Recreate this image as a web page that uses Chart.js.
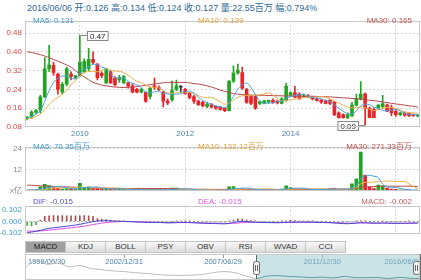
<!DOCTYPE html>
<html>
<head>
<meta charset="utf-8">
<script src="https://cdn.jsdelivr.net/npm/chart.js@4.4.1/dist/chart.umd.min.js"></script>
<style>
body{margin:0;width:421px;height:280px;overflow:hidden;background:#fff;position:relative;font-family:"Liberation Sans",Arial,"Noto Sans CJK SC",sans-serif}
canvas{position:absolute;left:0}
.t{position:absolute;white-space:nowrap;font-size:8px;line-height:10px;z-index:2}
.r{text-align:right}
#title{position:absolute;left:27px;top:3px;font-size:9px;line-height:11px;color:#2f6a99;white-space:nowrap}
#tabs{position:absolute;left:25px;top:241px;height:11px;display:flex;z-index:2}
#tabs div{width:39px;height:10px;border:1px solid #c4c4c4;border-left:none;font-size:8px;line-height:10px;text-align:center;color:#333;background:linear-gradient(#f7f7f7,#dcdcdc)}
#tabs div:first-child{border-left:1px solid #c4c4c4}
#tabs div.on{background:#a0a0a0;color:#222}
</style>
</head>
<body>
<div id="title">2016/06/06 开:0.126 高:0.134 低:0.124 收:0.127 量:22.55百万 幅:0.794%</div>

<canvas id="mainChart" width="421" height="127" style="top:13px"></canvas>
<canvas id="volChart" width="421" height="60" style="top:139px"></canvas>
<canvas id="macdChart" width="421" height="44" style="top:198px"></canvas>
<canvas id="navChart" width="421" height="28" style="top:252px"></canvas>

<div class="t" style="left:33px;top:16px;color:#3f9bd5">MA5: 0.131</div>
<div class="t" style="left:198px;top:16px;color:#e6a23c">MA10: 0.139</div>
<div class="t r" style="right:9px;top:16px;color:#c0504d">MA30: 0.165</div>

<div class="t" style="left:33px;top:142px;color:#3f9bd5">MA5: 70.35百万</div>
<div class="t" style="left:198px;top:142px;color:#e6a23c">MA10: 132.12百万</div>
<div class="t r" style="right:9px;top:142px;color:#c0504d">MA30: 271.33百万</div>

<div class="t" style="left:33px;top:197px;color:#5050c8">DIF: -0.015</div>
<div class="t" style="left:198px;top:197px;color:#dd55dd">DEA: -0.015</div>
<div class="t r" style="right:9px;top:197px;color:#c06060">MACD: -0.002</div>

<div id="tabs">
  <div class="on">MACD</div><div>KDJ</div><div>BOLL</div><div>PSY</div><div>OBV</div><div>RSI</div><div>WVAD</div><div>CCI</div>
</div>

<script>
// monthly candles 2009/01 .. 2016/06
const months = [
  '2009/01','2009/02','2009/03','2009/04','2009/05','2009/06','2009/07','2009/08','2009/09','2009/10','2009/11','2009/12',
  '2010/01','2010/02','2010/03','2010/04','2010/05','2010/06','2010/07','2010/08','2010/09','2010/10','2010/11','2010/12',
  '2011/01','2011/02','2011/03','2011/04','2011/05','2011/06','2011/07','2011/08','2011/09','2011/10','2011/11','2011/12',
  '2012/01','2012/02','2012/03','2012/04','2012/05','2012/06','2012/07','2012/08','2012/09','2012/10','2012/11','2012/12',
  '2013/01','2013/02','2013/03','2013/04','2013/05','2013/06','2013/07','2013/08','2013/09','2013/10','2013/11','2013/12',
  '2014/01','2014/02','2014/03','2014/04','2014/05','2014/06','2014/07','2014/08','2014/09','2014/10','2014/11','2014/12',
  '2015/01','2015/02','2015/03','2015/04','2015/05','2015/06','2015/07','2015/08','2015/09','2015/10','2015/11','2015/12',
  '2016/01','2016/02','2016/03','2016/04','2016/05','2016/06'
];
const yearLabels = ['2010', '2012', '2014'];
const gridYears = ['2010', '2012', '2014', '2016'];

const open = [
  .115,.122,.142,.152,.208,.328,.342,.305,.228,.262,
  .305,.290,.300,.315,.328,.368,.348,.308,.268,.315,
  .288,.280,.268,.268,.255,.240,.228,.228,.210,.255,
  .248,.228,.190,.195,.240,.250,.240,.225,.210,.190,
  .185,.168,.175,.168,.165,.160,.150,.275,.310,.312,
  .240,.210,.213,.180,.180,.188,.193,.190,.180,.193,
  .215,.227,.220,.207,.213,.207,.200,.193,.190,.193,
  .187,.140,.133,.120,.127,.173,.200,.220,.160,.155,
  .160,.167,.173,.160,.147,.133,.140,.138,.130,.126
];
const high = [
  .125,.150,.155,.215,.375,.428,.355,.310,.270,.335,
  .315,.300,.470,.370,.415,.400,.350,.315,.330,.320,
  .295,.300,.300,.270,.265,.245,.245,.230,.250,.288,
  .255,.232,.200,.275,.280,.255,.245,.228,.215,.195,
  .190,.185,.180,.170,.168,.162,.278,.340,.348,.335,
  .245,.215,.215,.190,.195,.195,.200,.195,.205,.267,
  .230,.253,.225,.220,.218,.210,.205,.198,.195,.198,
  .190,.145,.136,.140,.185,.220,.273,.225,.165,.160,
  .175,.215,.178,.173,.155,.142,.145,.140,.136,.134
];
const low = [
  .110,.118,.138,.140,.205,.315,.300,.220,.220,.255,
  .280,.285,.295,.310,.320,.350,.280,.290,.265,.265,
  .255,.270,.265,.245,.225,.225,.225,.185,.200,.240,
  .235,.165,.175,.190,.235,.228,.220,.200,.180,.172,
  .165,.162,.160,.155,.152,.145,.148,.270,.305,.240,
  .180,.175,.155,.175,.178,.180,.180,.178,.178,.190,
  .210,.205,.198,.205,.205,.195,.190,.180,.178,.175,
  .128,.118,.118,.115,.125,.170,.195,.090,.120,.120,
  .155,.160,.145,.128,.125,.128,.125,.125,.125,.124
];
const close = [
  .120,.143,.150,.208,.328,.345,.312,.240,.262,.328,
  .295,.298,.355,.360,.368,.355,.290,.300,.328,.268,
  .260,.290,.295,.255,.228,.228,.240,.190,.245,.248,
  .240,.190,.182,.235,.255,.250,.222,.205,.190,.175,
  .170,.178,.165,.160,.155,.150,.275,.310,.322,.245,
  .185,.180,.160,.188,.190,.193,.185,.182,.200,.253,
  .227,.207,.200,.213,.207,.200,.193,.187,.180,.180,
  .133,.120,.120,.133,.173,.200,.220,.160,.120,.120,
  .173,.180,.147,.140,.133,.140,.130,.127,.128,.127
];
const ma5 = [
  .118,.125,.135,.150,.190,.235,.269,.287,.297,.297,
  .287,.285,.308,.327,.335,.347,.346,.335,.328,.308,
  .289,.289,.288,.274,.266,.259,.249,.228,.226,.230,
  .233,.223,.221,.219,.220,.222,.229,.233,.224,.208,
  .192,.184,.176,.170,.166,.162,.181,.210,.242,.260,
  .267,.248,.218,.192,.181,.182,.183,.188,.190,.203,
  .209,.214,.217,.220,.211,.205,.203,.200,.193,.188,
  .175,.160,.147,.137,.136,.149,.169,.177,.175,.164,
  .159,.151,.148,.152,.155,.148,.138,.134,.132,.131
];
const ma10 = [
  .115,.118,.125,.135,.155,.175,.195,.205,.220,.235,
  .261,.277,.297,.312,.316,.317,.315,.321,.328,.322,
  .318,.317,.311,.301,.287,.274,.269,.258,.250,.248,
  .246,.236,.225,.223,.225,.228,.226,.227,.222,.214,
  .207,.206,.205,.197,.187,.177,.182,.193,.206,.213,
  .215,.215,.214,.217,.221,.225,.216,.203,.191,.192,
  .196,.199,.203,.205,.207,.207,.208,.209,.207,.199,
  .190,.181,.173,.165,.162,.162,.165,.162,.156,.150,
  .154,.160,.163,.163,.159,.153,.144,.141,.140,.139
];
const ma30 = [
  .400,.397,.393,.388,.382,.375,.368,.360,.352,.344,
  .335,.320,.305,.293,.281,.270,.264,.258,.255,.252,
  .250,.249,.248,.249,.250,.252,.255,.257,.260,.263,
  .266,.268,.270,.270,.270,.270,.270,.268,.265,.263,
  .260,.255,.250,.244,.237,.232,.227,.222,.220,.218,
  .217,.216,.216,.215,.215,.214,.214,.213,.213,.212,
  .212,.212,.212,.211,.211,.211,.210,.209,.209,.208,
  .207,.206,.204,.203,.202,.200,.198,.196,.194,.192,
  .190,.187,.184,.181,.178,.176,.173,.170,.168,.165
];
const priceTicks = [0.08, 0.16, 0.24, 0.32, 0.40, 0.48];

// volume, x亿
const volume = [
  0.3,0.5,0.8,2.5,3.8,3.2,2.0,1.8,1.2,1.5,
  1.0,1.2,4.4,2.0,2.5,1.5,1.6,1.0,1.3,1.1,
  0.9,1.8,1.0,0.8,0.7,0.8,0.9,0.7,1.0,0.8,
  0.7,0.8,0.6,1.8,1.7,1.0,0.8,0.7,0.6,0.5,
  0.5,0.6,0.5,0.5,0.5,0.6,2.4,2.6,1.5,1.5,
  0.9,0.7,0.7,0.6,0.8,0.7,0.7,0.6,1.2,3.0,
  2.0,1.5,1.0,1.0,0.9,0.8,1.0,1.1,1.0,1.4,
  1.6,1.0,0.9,1.0,4.2,7.0,22.0,9.0,2.4,1.5,
  3.5,3.0,1.8,1.2,1.0,0.8,0.7,0.6,0.5,0.5
];
const volMa5 = [
  0.6,0.7,0.9,1.2,1.6,2.2,2.5,2.7,2.4,1.9,
  1.5,1.3,1.9,2.0,2.2,2.3,2.4,1.7,1.6,1.3,
  1.2,1.2,1.2,1.1,1.0,1.0,0.8,0.8,0.8,0.8,
  0.8,0.8,0.8,0.9,1.1,1.2,1.2,1.2,1.0,0.7,
  0.6,0.6,0.5,0.5,0.5,0.5,0.9,1.3,1.5,1.7,
  1.8,1.4,1.1,0.9,0.7,0.7,0.7,0.7,0.8,1.2,
  1.5,1.7,1.7,1.7,1.3,1.0,0.9,1.0,1.0,1.1,
  1.2,1.2,1.2,1.2,1.7,2.8,7.0,8.6,8.9,8.4,
  7.6,3.9,2.4,2.2,2.1,1.6,1.1,0.9,0.7,0.7
];
const volMa10 = [
  0.8,0.8,0.9,1.0,1.2,1.4,1.6,1.8,1.8,1.8,
  1.8,1.9,2.3,2.2,2.1,1.9,1.9,1.8,1.8,1.8,
  1.8,1.6,1.3,1.3,1.1,1.0,1.0,1.0,0.9,0.9,
  0.9,0.8,0.8,0.9,0.9,1.0,1.0,1.0,0.9,0.9,
  0.9,0.9,0.8,0.7,0.6,0.6,0.7,0.9,1.0,1.1,
  1.2,1.2,1.2,1.2,1.3,1.3,1.1,0.9,0.8,1.0,
  1.1,1.2,1.2,1.3,1.3,1.3,1.3,1.3,1.3,1.2,
  1.1,1.1,1.1,1.1,1.4,2.0,4.1,4.9,5.0,5.1,
  5.3,5.6,5.7,5.7,5.4,5.4,5.4,4.1,2.7,1.3
];
const volMa30 = [
  3.4,3.3,3.2,3.0,2.9,2.8,2.7,2.6,2.5,2.4,
  2.3,2.2,2.1,2.0,1.9,1.8,1.7,1.7,1.6,1.6,
  1.5,1.5,1.5,1.5,1.5,1.5,1.5,1.5,1.5,1.5,
  1.5,1.5,1.5,1.4,1.3,1.3,1.2,1.2,1.1,1.1,
  1.1,1.1,1.0,1.0,1.0,1.0,1.0,1.0,1.0,1.0,
  1.0,1.0,1.0,1.0,1.0,1.0,1.0,1.0,1.0,1.0,
  1.0,1.1,1.1,1.1,1.1,1.1,1.1,1.1,1.1,1.1,
  1.2,1.2,1.2,1.2,1.3,1.5,2.2,2.5,2.5,2.6,
  2.7,2.8,2.8,2.8,2.8,2.8,2.8,2.8,2.7,2.7
];
const volTicks = [0, 6, 12, 18, 24];

// MACD
const dif = [
  -.100,-.095,-.088,-.080,-.070,-.062,-.057,-.053,-.048,-.043,
  -.038,-.033,-.026,-.018,-.010,-.002,.003,.005,.006,.004,
  .002,.001,.000,-.002,-.004,-.006,-.007,-.009,-.010,-.010,
  -.010,-.012,-.014,-.013,-.011,-.010,-.010,-.011,-.013,-.015,
  -.017,-.018,-.019,-.020,-.021,-.022,-.018,-.010,-.003,.000,
  -.002,-.005,-.008,-.010,-.011,-.011,-.012,-.012,-.011,-.008,
  -.006,-.006,-.007,-.007,-.007,-.008,-.009,-.010,-.011,-.012,
  -.015,-.018,-.020,-.021,-.019,-.015,-.011,-.012,-.015,-.017,
  -.016,-.015,-.016,-.017,-.018,-.018,-.017,-.016,-.016,-.015
];
const dea = [
  -.085,-.087,-.087,-.085,-.082,-.078,-.074,-.070,-.066,-.062,
  -.058,-.053,-.048,-.043,-.036,-.029,-.022,-.016,-.011,-.007,
  -.004,-.002,-.001,-.001,-.002,-.003,-.004,-.005,-.006,-.007,
  -.008,-.009,-.010,-.011,-.011,-.011,-.011,-.011,-.011,-.012,
  -.013,-.014,-.015,-.016,-.017,-.018,-.018,-.017,-.015,-.012,
  -.010,-.009,-.009,-.009,-.010,-.010,-.010,-.011,-.011,-.010,
  -.010,-.009,-.009,-.008,-.008,-.008,-.008,-.009,-.009,-.010,
  -.011,-.012,-.014,-.016,-.017,-.016,-.015,-.014,-.014,-.015,
  -.015,-.015,-.015,-.016,-.016,-.017,-.017,-.016,-.015,-.015
];
const macdHist = [
  -.035,-.040,-.030,.010,.045,.050,.052,.050,.052,.050,
  .050,.050,.050,.052,.050,.045,.025,.020,.015,.010,
  .006,.003,.002,-.002,-.003,-.004,-.004,-.006,-.006,-.005,
  -.004,-.005,-.006,-.003,.002,.003,.002,.001,-.003,-.005,
  -.006,-.006,-.006,-.006,-.007,-.007,.002,.012,.022,.020,
  .012,.007,.003,-.002,-.003,-.002,-.003,-.002,.001,.004,
  .008,.006,.004,.003,.003,.001,-.001,-.002,-.003,-.004,
  -.006,-.009,-.010,-.008,-.004,.002,.006,.004,-.002,-.003,
  -.001,.002,-.001,-.002,-.003,-.002,.000,.001,-.001,-.002
];
const macdTicks = [-0.102, 0, 0.102];

// navigator (whole history)
const navYears = [
  1998.5,1999.0,1999.5,2000.0,2000.5,2001.0,2001.5,2002.0,2002.5,2003.0,
  2003.5,2004.0,2004.5,2005.0,2005.5,2006.0,2006.5,2007.0,2007.5,2008.0,
  2008.5,2009.0,2009.5,2010.0,2010.5,2011.0,2011.5,2012.0,2012.5,2013.0,
  2013.5,2014.0,2014.5,2015.0,2015.5,2016.0,2016.43
];
const navValues = [
  1.00,1.65,1.30,1.40,1.10,1.20,0.95,0.85,0.75,0.70,
  0.60,0.55,0.45,0.40,0.38,0.40,0.45,0.60,0.70,0.62,
  0.35,0.12,0.33,0.36,0.29,0.26,0.20,0.24,0.17,0.30,
  0.19,0.20,0.21,0.12,0.22,0.14,0.127
];
const navTickValues = [1998.5, 2002.997, 2007.49, 2011.997, 2016.43];
const navTickLabels = ['1998/06/30', '2002/12/31', '2007/06/29', '2011/12/30', '2016/06/06'];
const rangeStart = 2009.0;
const rangeEnd = 2016.43;

const UP = '#23a323', DOWN = '#e8242a', FLAT = '#333333';
const candleColor = close.map((c, i) => c > open[i] ? UP : (c < open[i] ? DOWN : FLAT));

Chart.defaults.font.family = '"Liberation Sans", Arial, "Noto Sans CJK SC", sans-serif';
Chart.defaults.font.size = 8;
Chart.defaults.animation = false;
Chart.defaults.plugins.legend.display = false;
Chart.defaults.plugins.tooltip.enabled = false;
Chart.defaults.elements.point.radius = 0;

const isGridYear = i => {
  const m = months[i];
  return !!m && m.endsWith('/01') && gridYears.includes(m.slice(0, 4));
};

function monthAxis(showLabels) {
  return {
    offset: true,
    grid: { offset: false, drawTicks: false, color: c => isGridYear(c.index) ? '#d6d6d6' : 'rgba(0,0,0,0)' },
    border: { display: false, dash: [2, 2] },
    ticks: {
      display: showLabels, autoSkip: false, maxRotation: 0, padding: 2, color: '#4f82ad',
      callback: v => {
        const m = months[v];
        return m.endsWith('/01') && yearLabels.includes(m.slice(0, 4)) ? m.slice(0, 4) : '';
      }
    },
    afterFit: s => { s.height = showLabels ? 13 : 1; }
  };
}

function valueAxis(min, max, ticks, color, fmt, gridColor) {
  return {
    min: min, max: max,
    afterBuildTicks: s => { s.ticks = ticks.map(v => ({ value: v })); },
    afterFit: s => { s.width = 25; },
    grid: { drawTicks: false, color: gridColor },
    border: { display: false, dash: [2, 2] },
    ticks: { color: color, padding: 3, callback: fmt }
  };
}

const frame = {
  id: 'frame',
  afterDraw(chart) {
    const { ctx, chartArea: a } = chart;
    ctx.save();
    ctx.strokeStyle = '#c8c8c8';
    ctx.lineWidth = 1;
    ctx.strokeRect(Math.round(a.left) + 0.5, Math.round(a.top) + 0.5,
      Math.round(a.right - a.left) - 1, Math.round(a.bottom - a.top) - 1);
    ctx.restore();
  }
};

function drawTag(ctx, px, py, text, side) {
  ctx.save();
  ctx.font = '8px "Liberation Sans", Arial, sans-serif';
  const w = ctx.measureText(text).width + 5, h = 9;
  const bx = side === 'right' ? Math.round(px) + 7 : Math.round(px) - 7 - w;
  const by = Math.round(py) - 4;
  ctx.strokeStyle = '#888';
  ctx.lineWidth = 1;
  ctx.beginPath();
  ctx.moveTo(Math.round(px) + 0.5, by + 4.5);
  ctx.lineTo(side === 'right' ? bx : bx + w, by + 4.5);
  ctx.stroke();
  ctx.fillStyle = '#fff';
  ctx.fillRect(bx, by, w, h);
  ctx.strokeRect(bx + 0.5, by + 0.5, w, h);
  ctx.fillStyle = '#222';
  ctx.textBaseline = 'middle';
  ctx.fillText(text, bx + 3, by + h / 2 + 1);
  ctx.restore();
}

const extremeTags = {
  id: 'extremeTags',
  afterDatasetsDraw(chart) {
    const { ctx, scales: { x, y } } = chart;
    const hi = Math.max(...high), lo = Math.min(...low);
    const iHi = high.indexOf(hi), iLo = low.indexOf(lo);
    drawTag(ctx, x.getPixelForValue(iHi), y.getPixelForValue(hi), hi.toFixed(2), 'right');
    drawTag(ctx, x.getPixelForValue(iLo), y.getPixelForValue(lo), lo.toFixed(2), 'left');
  }
};

const maLine = (data, color) => ({
  type: 'line', data: data, borderColor: color, borderWidth: 1,
  cubicInterpolationMode: 'monotone', order: 0
});

new Chart(document.getElementById('mainChart'), {
  type: 'bar',
  data: {
    labels: months,
    datasets: [
      maLine(ma5, '#4aa3df'),
      maLine(ma10, '#f0b04a'),
      maLine(ma30, '#b84848'),
      { data: low.map((l, i) => [l, high[i]]), backgroundColor: candleColor, barThickness: 1, grouped: false, order: 2 },
      { data: open.map((o, i) => [o, close[i]]), backgroundColor: candleColor, barThickness: 3, minBarLength: 1, grouped: false, order: 1 }
    ]
  },
  options: {
    responsive: false,
    layout: { padding: { top: 1, right: 1, left: 0, bottom: 0 } },
    scales: {
      x: monthAxis(true),
      y: valueAxis(0.08, 0.532, priceTicks, '#e04848', v => v.toFixed(2),
        c => c.tick.value > 0.09 ? '#d6d6d6' : 'rgba(0,0,0,0)')
    }
  },
  plugins: [frame, extremeTags]
});

new Chart(document.getElementById('volChart'), {
  type: 'bar',
  data: {
    labels: months,
    datasets: [
      maLine(volMa5, '#4aa3df'),
      maLine(volMa10, '#f0b04a'),
      maLine(volMa30, '#b84848'),
      { data: volume, backgroundColor: candleColor, barThickness: 3, order: 1 }
    ]
  },
  options: {
    responsive: false,
    layout: { padding: { top: 1, right: 1, left: 0, bottom: 0 } },
    scales: {
      x: monthAxis(false),
      y: valueAxis(0, 24.9, volTicks, '#8a8a8a', v => v === 0 ? 'x亿' : String(v),
        c => c.tick.value > 0 ? '#d6d6d6' : 'rgba(0,0,0,0)')
    }
  },
  plugins: [frame]
});

new Chart(document.getElementById('macdChart'), {
  type: 'bar',
  data: {
    labels: months,
    datasets: [
      maLine(dif, '#4848d0'),
      maLine(dea, '#e050e0'),
      { data: macdHist, backgroundColor: macdHist.map(v => v >= 0 ? '#a85050' : '#44aa44'), barThickness: 1, order: 1 }
    ]
  },
  options: {
    responsive: false,
    layout: { padding: { top: 1, right: 1, left: 0, bottom: 0 } },
    scales: {
      x: monthAxis(false),
      y: valueAxis(-0.114, 0.138, macdTicks, '#3a9ad0', v => v.toFixed(3),
        c => c.tick.value === 0 ? '#bdbdbd' : 'rgba(0,0,0,0)')
    }
  },
  plugins: [frame]
});

const navDecor = {
  id: 'navDecor',
  beforeDatasetsDraw(chart) {
    const { ctx, chartArea: a, scales: { x } } = chart;
    ctx.save();
    ctx.font = '7.5px "Liberation Sans", Arial, sans-serif';
    ctx.fillStyle = '#4a7fab';
    ctx.strokeStyle = '#999';
    ctx.textBaseline = 'middle';
    navTickValues.forEach((v, i) => {
      const px = x.getPixelForValue(v);
      if (i === 0) { ctx.textAlign = 'left'; ctx.fillText(navTickLabels[i], px + 3, a.top + 8); return; }
      if (i === navTickValues.length - 1) { ctx.textAlign = 'right'; ctx.fillText(navTickLabels[i], px + 2, a.top + 8); return; }
      ctx.textAlign = 'center';
      ctx.fillText(navTickLabels[i], px, a.top + 8);
      ctx.beginPath();
      ctx.moveTo(Math.round(px) + 0.5, a.top);
      ctx.lineTo(Math.round(px) + 0.5, a.top + 4);
      ctx.stroke();
    });
    const x0 = x.getPixelForValue(rangeStart), x1 = x.getPixelForValue(rangeEnd);
    ctx.fillStyle = 'rgba(150,200,205,0.5)';
    ctx.fillRect(x0, a.top, x1 - x0, a.bottom - a.top);
    ctx.restore();
  },
  afterDatasetsDraw(chart) {
    const { ctx, chartArea: a, scales: { x } } = chart;
    ctx.save();
    [rangeStart, rangeEnd].forEach(v => {
      const px = Math.round(x.getPixelForValue(v));
      const hx = Math.min(px - 3, a.right - 7);
      ctx.strokeStyle = '#666';
      ctx.beginPath();
      ctx.moveTo(px + 0.5, a.top); ctx.lineTo(px + 0.5, a.bottom);
      ctx.stroke();
      ctx.fillStyle = '#f4f4f4';
      ctx.beginPath();
      ctx.roundRect(hx + 0.5, a.top + 7.5, 6, 13, 2);
      ctx.fill(); ctx.stroke();
      ctx.beginPath();
      ctx.moveTo(hx + 2.5, a.top + 11); ctx.lineTo(hx + 2.5, a.top + 17);
      ctx.moveTo(hx + 4.5, a.top + 11); ctx.lineTo(hx + 4.5, a.top + 17);
      ctx.stroke();
    });
    ctx.restore();
  }
};

new Chart(document.getElementById('navChart'), {
  type: 'line',
  data: {
    datasets: [{
      data: navYears.map((v, i) => ({ x: v, y: navValues[i] })),
      borderColor: '#bdbdbd', borderWidth: 1, tension: 0.3,
      segment: { borderColor: c => c.p0.parsed.x >= rangeStart - 0.01 ? '#5f9d9d' : '#bdbdbd' }
    }]
  },
  options: {
    responsive: false,
    layout: { padding: { top: 2, right: 1, left: 25, bottom: 0 } },
    scales: {
      x: { type: 'linear', display: false, min: navYears[0], max: navYears[navYears.length - 1] },
      y: { display: false, min: 0, max: 2.15 }
    }
  },
  plugins: [frame, navDecor]
});
</script>
</body>
</html>
